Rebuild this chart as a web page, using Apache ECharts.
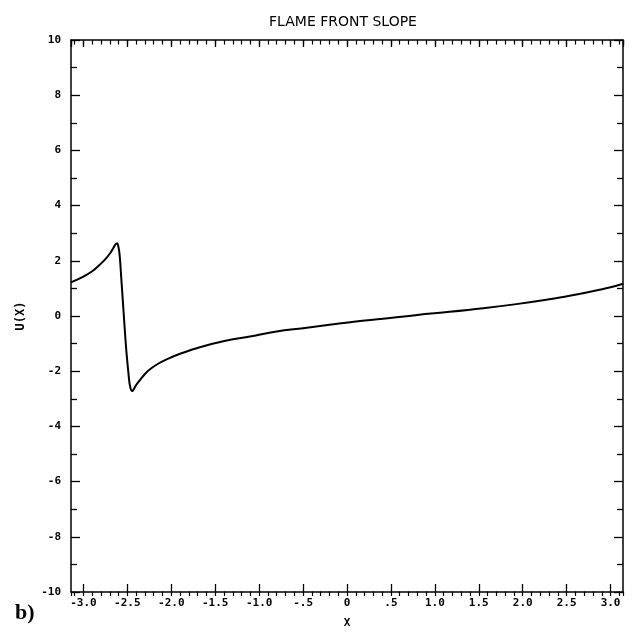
<!DOCTYPE html>
<html><head><meta charset="utf-8">
<script src="https://cdn.jsdelivr.net/npm/echarts@6/dist/echarts.min.js"></script>
<style>html,body{margin:0;padding:0;background:#fff}#c{width:632px;height:634px}</style>
</head><body><div id="c"></div>
<script>
const xValues = [-3.1416, -3.0, -2.9, -2.81, -2.74, -2.69, -2.66, -2.635, -2.618, -2.600, -2.585, -2.570, -2.555, -2.540, -2.525, -2.508, -2.490, -2.475, -2.460, -2.445, -2.425, -2.400, -2.357, -2.30, -2.243, -2.15, -2.053, -1.90, -1.675, -1.37, -1.106, -0.80, -0.50, -0.20, 0.10, 0.41, 0.80, 1.168, 1.55, 1.927, 2.25, 2.495, 2.70, 2.874, 3.00, 3.1416];
const uValues = [1.22, 1.43, 1.62, 1.87, 2.10, 2.30, 2.46, 2.60, 2.64, 2.48, 2.10, 1.40, 0.70, 0.00, -0.70, -1.40, -2.00, -2.45, -2.66, -2.72, -2.64, -2.50, -2.32, -2.10, -1.93, -1.73, -1.57, -1.37, -1.13, -0.89, -0.74, -0.56, -0.44, -0.32, -0.20, -0.10, 0.04, 0.15, 0.28, 0.43, 0.58, 0.71, 0.83, 0.95, 1.04, 1.17];
const xTickValues = [-3.0, -2.5, -2.0, -1.5, -1.0, -0.5, 0, 0.5, 1.0, 1.5, 2.0, 2.5, 3.0];
const xTickLabels = ['-3.0', '-2.5', '-2.0', '-1.5', '-1.0', '-.5', '0', '.5', '1.0', '1.5', '2.0', '2.5', '3.0'];
const yTickValues = [-10, -8, -6, -4, -2, 0, 2, 4, 6, 8, 10];
const yTickLabels = ['-10', '-8', '-6', '-4', '-2', '0', '2', '4', '6', '8', '10'];
const titleText = 'FLAME FRONT SLOPE';
const xName = 'X';
const yName = 'U(X)';
const panelLabel = 'b)';

const MONO = '"DejaVu Sans Mono", "Liberation Mono", monospace';
function lookup(values, labels, v) {
  for (let i = 0; i < values.length; i++) if (Math.abs(values[i] - v) < 1e-6) return labels[i];
  return '';
}
const gridRect = { left: 71, right: 9, top: 40, bottom: 38 };
const black = '#000';
const labelStyle = { color: black, fontFamily: MONO, fontWeight: 'bold', fontSize: 11 };

function xMajor(pos, withLabels) {
  return {
    type: 'value', gridIndex: 0, position: pos, min: -Math.PI, max: Math.PI,
    splitNumber: 12, minInterval: 0.5, maxInterval: 0.5,
    axisLine: { show: true, onZero: false, lineStyle: { color: black, width: 1.5 } },
    axisTick: { show: true, inside: true, length: pos === 'bottom' ? 8 : 7, lineStyle: { color: black, width: 1.3 } },
    axisLabel: Object.assign({ show: withLabels, margin: 6, showMinLabel: false, showMaxLabel: false,
      formatter: v => lookup(xTickValues, xTickLabels, v) }, labelStyle),
    splitLine: { show: false },
    name: withLabels ? xName : '', nameLocation: 'middle', nameGap: 26,
    nameTextStyle: { color: black, fontFamily: MONO, fontWeight: 'bold', fontSize: 11 }
  };
}
function xMinor(pos) {
  return {
    type: 'value', gridIndex: 1, position: pos, min: -Math.PI, max: Math.PI,
    splitNumber: 60, minInterval: 0.1, maxInterval: 0.1,
    axisLine: { show: false, onZero: false },
    axisTick: { show: true, inside: true, length: 4.5, lineStyle: { color: black, width: 1.2 } },
    axisLabel: { show: false }, splitLine: { show: false }
  };
}
function yMajor(pos, withLabels) {
  return {
    type: 'value', gridIndex: 0, position: pos, min: -10, max: 10, interval: 2,
    axisLine: { show: true, onZero: false, lineStyle: { color: black, width: 1.5 } },
    axisTick: { show: true, inside: true, length: 9, lineStyle: { color: black, width: 1.3 } },
    minorTick: { show: true, splitNumber: 2, length: 6, lineStyle: { color: black, width: 1.3 } },
    axisLabel: Object.assign({ show: withLabels, margin: 10,
      formatter: v => lookup(yTickValues, yTickLabels, v) }, labelStyle),
    splitLine: { show: false },
    name: withLabels ? yName : '', nameLocation: 'middle', nameGap: 44,
    nameTextStyle: { color: black, fontFamily: MONO, fontWeight: 'bold', fontSize: 12 }
  };
}

const chart = echarts.init(document.getElementById('c'), null, { renderer: 'canvas' });
chart.setOption({
  animation: false,
  backgroundColor: '#fff',
  title: [
    { text: titleText, left: 338, top: 10, textAlign: 'center',
      textStyle: { color: black, fontFamily: '"DejaVu Sans", sans-serif', fontWeight: 'normal', fontSize: 14 } },
    { text: panelLabel, left: 10, top: 597,
      textStyle: { color: black, fontFamily: '"Liberation Serif", serif', fontWeight: 'bold', fontSize: 22 } }
  ],
  grid: [Object.assign({}, gridRect), Object.assign({}, gridRect)],
  xAxis: [xMajor('bottom', true), xMajor('top', false), xMinor('bottom'), xMinor('top')],
  yAxis: [yMajor('left', true), yMajor('right', false),
    { type: 'value', gridIndex: 1, min: -10, max: 10, show: false }],
  series: [{
    type: 'line', xAxisIndex: 0, yAxisIndex: 0,
    data: xValues.map((x, i) => [x, uValues[i]]),
    showSymbol: false, symbol: 'none', smooth: 0.4,
    lineStyle: { color: black, width: 2 }
  }]
});
</script>
</body></html>
